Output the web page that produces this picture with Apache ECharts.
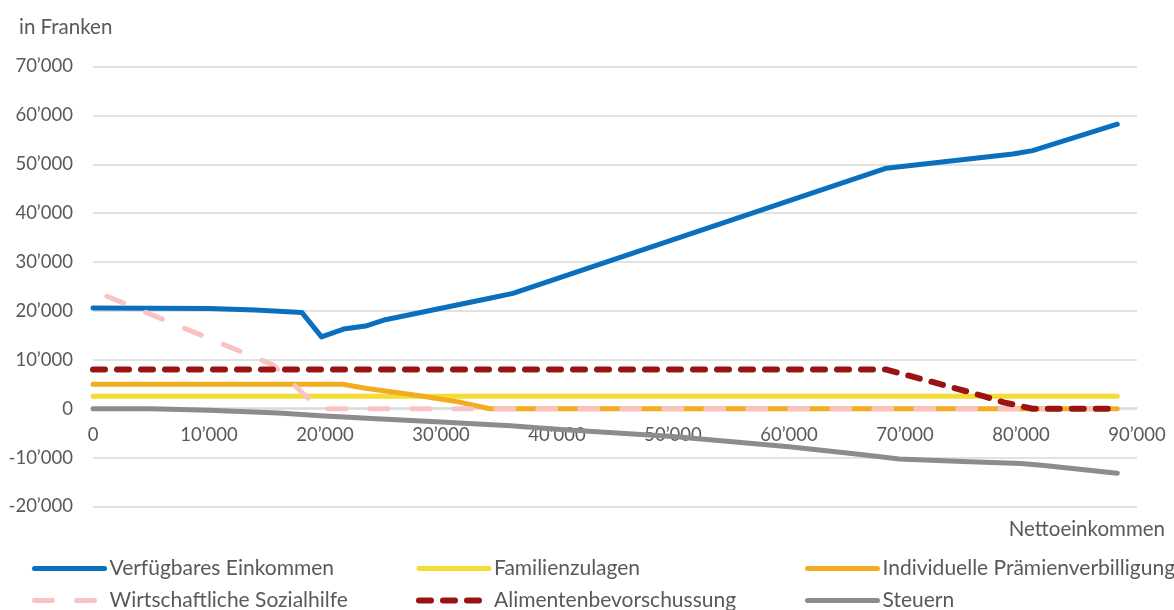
<!DOCTYPE html>
<html>
<head>
<meta charset="utf-8">
<script src="https://cdn.jsdelivr.net/npm/echarts@6/dist/echarts.min.js"></script>
<style>
    html, body { margin: 0; padding: 0; background: #fff; }
    #chart { width: 1174px; height: 610px; }
</style>
</head>
<body>
<div id="chart"></div>
<script>
// [Nettoeinkommen, Franken]
const verfuegbar = [[0, 20600], [10000, 20500], [14000, 20200], [18000, 19700], [19700, 14700], [21600, 16300], [23500, 16900], [25200, 18200], [34200, 22600], [36200, 23600], [68400, 49200], [79300, 52100], [81000, 52800], [88300, 58200]];
const familienzulagen = [[0, 2550], [88300, 2550]];
const praemien = [[0, 5000], [21500, 5000], [23500, 4200], [28000, 2700], [31500, 1400], [34200, 0], [88300, 0]];
const sozialhilfe = [[1200, 23000], [15500, 9000], [19500, 0], [88300, 0]];
const alimente = [[0, 8000], [68400, 8000], [72000, 5700], [76000, 3100], [78500, 1300], [81000, 0], [88300, 0]];
const steuern = [[0, 0], [5000, 0], [10000, -300], [16000, -900], [20000, -1500], [24000, -2000], [30000, -2700], [36000, -3500], [40000, -4200], [50000, -5700], [60000, -7800], [66000, -9300], [69500, -10300], [75000, -10800], [80000, -11200], [82000, -11600], [88300, -13200]];

const seriesNames = ["Verfügbares Einkommen", "Familienzulagen", "Individuelle Prämienverbilligung", "Wirtschaftliche Sozialhilfe", "Alimentenbevorschussung", "Steuern"];

const font = "Lato";
const textColor = "#595959";

function fmt(v) {
    let s = String(Math.abs(v)).replace(/\B(?=(\d{3})+(?!\d))/g, "\u2019");
    return (v < 0 ? "-" : "") + s;
}

function lineSeries(name, data, color, width, dash) {
    return {
        name: name,
        type: "line",
        data: data,
        showSymbol: false,
        symbol: "none",
        lineStyle: {
            color: color,
            width: width,
            type: dash || "solid",
            cap: "round",
            join: "round"
        },
        itemStyle: { color: color }
    };
}

function legendColumn(left, names) {
    return {
        orient: "vertical",
        left: left,
        top: 558,
        height: 60,
        padding: 0,
        itemWidth: 70,
        itemHeight: 14,
        itemGap: 11,
        itemStyle: { opacity: 0 },
        lineStyle: { width: "inherit", type: "inherit", cap: "inherit" },
        data: names,
        textStyle: {
            fontFamily: font,
            fontSize: 21,
            color: textColor,
            lineHeight: 20
        }
    };
}

let chart = echarts.init(document.getElementById("chart"));
chart.setOption({
    animation: false,
    textStyle: { fontFamily: font },
    title: [
        {
            text: "in Franken",
            left: 14,
            top: 12,
            textStyle: { fontFamily: font, fontSize: 20.5, fontWeight: "normal", color: textColor }
        },
        {
            text: "Nettoeinkommen",
            right: 4,
            top: 514,
            textStyle: { fontFamily: font, fontSize: 20.5, fontWeight: "normal", color: textColor }
        }
    ],
    legend: [
        legendColumn(32, [seriesNames[0], seriesNames[3]]),
        legendColumn(416, [seriesNames[1], seriesNames[4]]),
        legendColumn(805, [seriesNames[2], seriesNames[5]])
    ],
    grid: {
        left: 93,
        right: 37,
        top: 66.5,
        bottom: 103.5,
        containLabel: false,
        outerBoundsMode: "none"
    },
    xAxis: {
        type: "value",
        min: 0,
        max: 90000,
        interval: 10000,
        // axis sits on the zero line, labels directly below it
        offset: -98.5,
        axisLine: { show: true, onZero: false, lineStyle: { color: "#d9d9d9", width: 1.5 } },
        axisTick: { show: false },
        splitLine: { show: false },
        axisLabel: {
            margin: 18,
            fontFamily: font,
            fontSize: 18.5,
            color: textColor,
            formatter: fmt
        }
    },
    yAxis: {
        type: "value",
        min: -20000,
        max: 70000,
        interval: 10000,
        axisLine: { show: false },
        axisTick: { show: false },
        splitLine: { show: true, lineStyle: { color: "#d9d9d9", width: 1.5 } },
        axisLabel: {
            margin: 20,
            fontFamily: font,
            fontSize: 18.5,
            color: textColor,
            formatter: fmt
        }
    },
    series: [
        lineSeries(seriesNames[0], verfuegbar, "#0a70bd", 5),
        lineSeries(seriesNames[1], familienzulagen, "#f3dc33", 5),
        lineSeries(seriesNames[2], praemien, "#f2ac22", 5),
        lineSeries(seriesNames[3], sozialhilfe, "#f9c3c3", 5, [18, 24]),
        lineSeries(seriesNames[4], alimente, "#9a1414", 6, [12, 12]),
        lineSeries(seriesNames[5], steuern, "#8c8c8c", 5)
    ]
});
</script>
</body>
</html>
